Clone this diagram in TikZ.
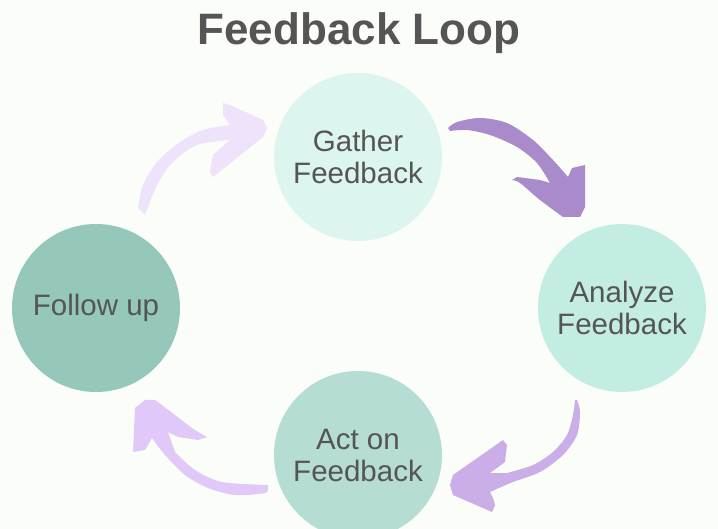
\documentclass[tikz,border=0pt]{standalone}
\usepackage{fontspec}
\setmainfont{Liberation Sans}
\definecolor{paper}{HTML}{FBFDF9}
\definecolor{inkgray}{HTML}{555555}
\definecolor{gathercol}{HTML}{DDF5EF}
\definecolor{analyzecol}{HTML}{C3EDE3}
\definecolor{actcol}{HTML}{B5DDD3}
\definecolor{followcol}{HTML}{95C7BA}
\definecolor{swoopa}{HTML}{EFE2FB}
\definecolor{swoopb}{HTML}{A98BCB}
\definecolor{swoopc}{HTML}{CBAEE8}
\definecolor{swoopd}{HTML}{E0C8F8}

\begin{document}
\begin{tikzpicture}[x=1pt,y=-1pt,
	stage/.style={circle,minimum size=168pt,inner sep=0pt,align=center,
		text=inkgray,font=\fontsize{29.5}{32}\selectfont}]
	\fill[paper] (0,0) rectangle (718,529);
	\useasboundingbox (0,0) rectangle (718,529);

	\node[text=inkgray,font=\bfseries\fontsize{44}{48}\selectfont] (title) at (359,33) {Feedback Loop};

	\node[stage,fill=gathercol] (gather) at (358,157) {Gather\\Feedback};
	\node[stage,fill=analyzecol] (analyze) at (622,308) {Analyze\\Feedback};
	\node[stage,fill=actcol] (act) at (358,455) {Act on\\Feedback};
	\node[stage,fill=followcol] (follow) at (96,308) {Follow up};

	% curved arrows between the stages
	\fill[swoopa] plot[smooth] coordinates {(145,215) (157,185) (173,162) (197,145) (230,140)}
		-- (213,155) -- (210,172) -- (213,177) -- (263,137) -- (267,128) -- (263,120)
		-- (230,105) -- (223,103) -- (223,115)
		-- plot[smooth] coordinates {(230,125) (203,130) (180,142) (157,162) (143,185) (138,208)} -- cycle;
	\fill[swoopb] plot[smooth] coordinates {(448,128) (457,122) (480,118) (507,123) (533,140) (553,160) (568,177)}
		-- (572,168) -- (585,165) -- (585,207) -- (580,217) -- (563,217)
		-- plot[smooth] coordinates {(563,217) (540,200) (520,183) (512,180)}
		-- (517,177) -- (540,180) -- (550,183)
		-- plot[smooth] coordinates {(550,183) (537,163) (517,147) (490,135) (467,130) (450,131)} -- cycle;
	\fill[swoopc] plot[smooth] coordinates {(577,400) (580,412) (577,435) (563,455) (540,472) (513,482) (490,492)}
		-- (493,498) -- (495,505) -- (492,512) -- (453,495) -- (450,485) -- (453,475)
		-- (503,440) -- (507,445) -- (505,462) -- (490,473)
		-- plot[smooth] coordinates {(507,473) (533,465) (553,452) (567,435) (573,415) (575,400)} -- cycle;
	\fill[swoopd] plot[smooth] coordinates {(268,487) (265,493) (235,495) (208,488) (185,475) (165,455) (152,438)}
		-- (148,445) -- (145,450) -- (133,452) -- (135,408) -- (145,400) -- (155,400)
		-- plot[smooth] coordinates {(155,400) (175,415) (192,428) (207,437)}
		-- (198,440) -- (178,437) -- (168,432)
		-- plot[smooth] coordinates {(175,452) (195,470) (222,482) (268,485)} -- cycle;
\end{tikzpicture}
\end{document}
